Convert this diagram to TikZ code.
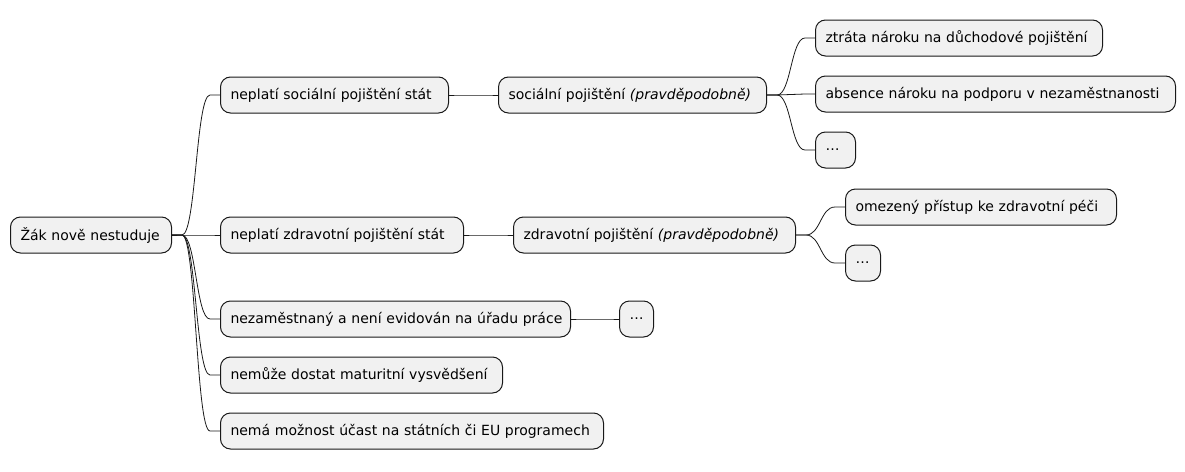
\documentclass[tikz,border=0pt]{standalone}
\usepackage{fontspec}
\setmainfont{DejaVu Sans}
\usetikzlibrary{calc}
\hfuzz=50pt
\begin{document}
\begin{tikzpicture}[x=1pt,y=-1pt,
  box/.style={draw=black!90,fill=black!5.5,line width=1pt,rounded corners=10pt,
    minimum height=36pt,inner xsep=10pt,anchor=west,text width=#1,align=left,font=\fontsize{14}{16}\selectfont},
  conn/.style={draw=black!90,line width=0.8pt}]
\useasboundingbox (0,0) rectangle (1185,471);
\node[box=141pt] (r) at (10,235) {\mbox{Žák nově nestuduje}};
\node[box=208pt] (a) at (220,95) {\mbox{neplatí sociální pojištění stát}};
\node[box=248pt] (a1) at (498,95) {\mbox{sociální pojištění \textit{(pravděpodobně)}}};
\node[box=267pt] (a11) at (815,38) {\mbox{ztráta nároku na důchodové pojištění}};
\node[box=340pt] (a12) at (815,94) {\mbox{absence nároku na podporu v nezaměstnanosti}};
\node[box=20pt] (a13) at (815,150) {…};
\node[box=223pt] (b) at (220,235) {\mbox{neplatí zdravotní pojištění stát}};
\node[box=262pt] (b1) at (513,235) {\mbox{zdravotní pojištění \textit{(pravděpodobně)}}};
\node[box=251pt] (b11) at (845,207) {\mbox{omezený přístup ke zdravotní péči}};
\node[box=15pt] (b12) at (845,263) {…};
\node[box=330pt] (c) at (220,319) {\mbox{nezaměstnaný a není evidován na úřadu práce}};
\node[box=14pt] (c1) at (619,319) {…};
\node[box=262pt] (d) at (220,375) {\mbox{nemůže dostat maturitní vysvědšení}};
\node[box=363pt] (e) at (220,431) {\mbox{nemá možnost účast na státních či EU programech}};
\newcommand{\edge}[2]{%
  \path (#1.east) ++(10,0) coordinate (p);
  \path (#2.west) ++(-10,0) coordinate (q);
  \path ($(p)!0.5!(q)$) coordinate (m);
  \draw[conn] (#1.east) -- (p) .. controls (m|-p) and (m|-q) .. (q) -- (#2.west);}
\foreach \p/\c in {r/a,r/b,r/c,r/d,r/e,a/a1,a1/a11,a1/a12,a1/a13,b/b1,b1/b11,b1/b12,c/c1}{\edge{\p}{\c}}
\end{tikzpicture}
\end{document}
